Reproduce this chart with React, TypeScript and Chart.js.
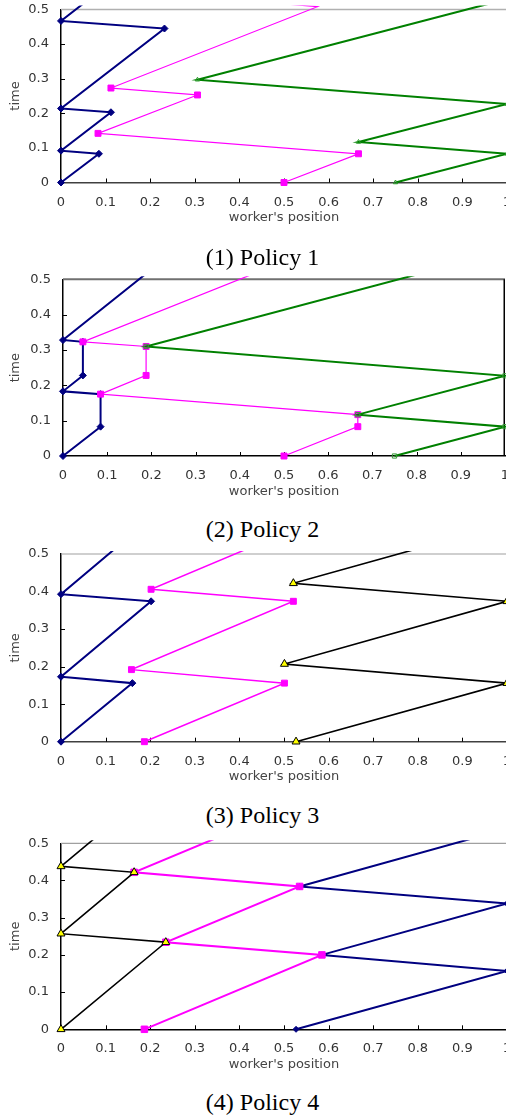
import React, { useEffect, useRef } from "react";
import { Chart, registerables } from "chart.js";

Chart.register(...registerables);

// ---------- shared axis data ----------
const xTickValues = [0, 0.1, 0.2, 0.3, 0.4, 0.5, 0.6, 0.7, 0.8, 0.9, 1];
const xTickLabels = ["0", "0.1", "0.2", "0.3", "0.4", "0.5", "0.6", "0.7", "0.8", "0.9", "1"];
const yTickValues = [0, 0.1, 0.2, 0.3, 0.4, 0.5];
const yTickLabels = ["0", "0.1", "0.2", "0.3", "0.4", "0.5"];
const xAxisTitle = "worker's position";
const yAxisTitle = "time";
const captions = ["(1) Policy 1", "(2) Policy 2", "(3) Policy 3", "(4) Policy 4"];

// ---------- Policy 1 ----------
const p1BlueX = [0, 0.085, 0, 0.112, 0, 0.232, 0, 0.06];
const p1BlueY = [0, 0.083, 0.092, 0.203, 0.214, 0.445, 0.467, 0.527];
const p1PinkX = [0.5, 0.667, 0.083, 0.306, 0.112, 0.575, 0.2];
const p1PinkY = [0, 0.083, 0.142, 0.253, 0.273, 0.508, 0.55];
const p1GreenX = [0.75, 1, 0.667, 1, 0.306, 0.94, 1];
const p1GreenY = [0, 0.083, 0.117, 0.227, 0.297, 0.51, 0.53];

// ---------- Policy 2 ----------
const p2BlueX = [0, 0.085, 0.085, 0, 0.045, 0.045, 0, 0.2];
const p2BlueY = [0, 0.083, 0.175, 0.183, 0.228, 0.323, 0.328, 0.528];
const p2PinkX = [0.5, 0.667, 0.667, 0.085, 0.188, 0.188, 0.045, 0.5];
const p2PinkY = [0, 0.083, 0.117, 0.175, 0.228, 0.31, 0.323, 0.55];
const p2GreenX = [0.75, 1, 0.667, 1, 0.188, 0.85];
const p2GreenY = [0, 0.083, 0.117, 0.227, 0.31, 0.53];

// ---------- Policy 3 ----------
const p3BlueX = [0, 0.16, 0, 0.202, 0, 0.15];
const p3BlueY = [0, 0.156, 0.173, 0.374, 0.393, 0.543];
const p3PinkX = [0.187, 0.501, 0.158, 0.521, 0.202, 0.45];
const p3PinkY = [0, 0.156, 0.192, 0.374, 0.406, 0.53];
const p3BlackX = [0.527, 1, 0.501, 1, 0.521, 0.85];
const p3BlackY = [0, 0.156, 0.207, 0.374, 0.422, 0.531];

// ---------- Policy 4 ----------
const p4BlackX = [0, 0.235, 0, 0.164, 0, 0.1];
const p4BlackY = [0, 0.234, 0.257, 0.422, 0.438, 0.538];
const p4PinkX = [0.187, 0.585, 0.235, 0.535, 0.164, 0.4];
const p4PinkY = [0, 0.2, 0.234, 0.384, 0.422, 0.54];
const p4BlueX = [0.527, 1, 0.585, 1, 0.535, 1];
const p4BlueY = [0, 0.157, 0.2, 0.338, 0.384, 0.539];

// ---------- styles ----------
type Style = {
  line: string;
  lineWidth: number;
  pointStyle: string;
  radius: number;
  fill: string;
  edge: string;
  edgeWidth: number;
};

const navyDiamond: Style = { line: "#000080", lineWidth: 2, pointStyle: "rectRot", radius: 3.5, fill: "#000080", edge: "#000080", edgeWidth: 1 };
const pinkSquareThin: Style = { line: "#ff00ff", lineWidth: 1.2, pointStyle: "rect", radius: 4.2, fill: "#ff00ff", edge: "#ff00ff", edgeWidth: 1 };
const pinkSquareMid: Style = { line: "#ff00ff", lineWidth: 1.5, pointStyle: "rect", radius: 4.2, fill: "#ff00ff", edge: "#ff00ff", edgeWidth: 1 };
const pinkSquareThick: Style = { line: "#ff00ff", lineWidth: 2, pointStyle: "rect", radius: 4.6, fill: "#ff00ff", edge: "#ff00ff", edgeWidth: 1 };
const greenTriangle: Style = { line: "#008000", lineWidth: 2, pointStyle: "triangle", radius: 2.5, fill: "rgba(255,255,255,0)", edge: "#2a9a2a", edgeWidth: 1 };
const greenSquare: Style = { line: "#008000", lineWidth: 2, pointStyle: "rect", radius: 3, fill: "rgba(255,255,255,0)", edge: "#3a9a3a", edgeWidth: 1 };
const blackYellowTri: Style = { line: "#000000", lineWidth: 1.6, pointStyle: "triangle", radius: 4.6, fill: "#ffff00", edge: "#000000", edgeWidth: 1 };
const navyPlain: Style = { line: "#000080", lineWidth: 2, pointStyle: "rectRot", radius: 3, fill: "#000080", edge: "#000080", edgeWidth: 1 };

type Series = { xs: number[]; ys: number[]; style: Style };

type Panel = {
  series: Series[]; // first = drawn on top
  canvasTop: number;
  padTop: number;
  plotH: number;
  leftW: number;
  rightPad: number;
  topLineColor: string;
  topLineWidth: number;
  rightFrame: boolean;
  xAxisColor: string;
  clipTop: number;
  captionTop: number;
};

const panels: Panel[] = [
  {
    series: [
      { xs: p1GreenX, ys: p1GreenY, style: greenTriangle },
      { xs: p1PinkX, ys: p1PinkY, style: pinkSquareThin },
      { xs: p1BlueX, ys: p1BlueY, style: navyDiamond },
    ],
    canvasTop: 0, padTop: 9.5, plotH: 173, leftW: 61, rightPad: 0,
    topLineColor: "#b0b0b0", topLineWidth: 1.5, rightFrame: false, xAxisColor: "#404040", clipTop: 4, captionTop: 245,
  },
  {
    series: [
      { xs: p2GreenX, ys: p2GreenY, style: greenSquare },
      { xs: p2PinkX, ys: p2PinkY, style: pinkSquareThin },
      { xs: p2BlueX, ys: p2BlueY, style: navyDiamond },
    ],
    canvasTop: 269, padTop: 10.3, plotH: 176.7, leftW: 63, rightPad: 2,
    topLineColor: "#707070", topLineWidth: 2, rightFrame: true, xAxisColor: "#000000", clipTop: 3, captionTop: 517,
  },
  {
    series: [
      { xs: p3BlackX, ys: p3BlackY, style: blackYellowTri },
      { xs: p3PinkX, ys: p3PinkY, style: pinkSquareMid },
      { xs: p3BlueX, ys: p3BlueY, style: navyDiamond },
    ],
    canvasTop: 544, padTop: 10, plotH: 187.7, leftW: 61, rightPad: 0,
    topLineColor: "#a0a0a0", topLineWidth: 1.2, rightFrame: false, xAxisColor: "#404040", clipTop: 3, captionTop: 803,
  },
  {
    series: [
      { xs: p4BlackX, ys: p4BlackY, style: blackYellowTri },
      { xs: p4PinkX, ys: p4PinkY, style: pinkSquareThick },
      { xs: p4BlueX, ys: p4BlueY, style: navyPlain },
    ],
    canvasTop: 833, padTop: 10.3, plotH: 186, leftW: 61, rightPad: 0,
    topLineColor: "#a0a0a0", topLineWidth: 1.2, rightFrame: false, xAxisColor: "#000000", clipTop: 3, captionTop: 1090,
  },
];

const CANVAS_W = 507;
const X_AXIS_H = 43;
const tickFont = { family: "'DejaVu Sans', sans-serif", size: 13 };

function PanelChart({ panel }: { panel: Panel }) {
  const ref = useRef<HTMLCanvasElement | null>(null);
  const canvasH = Math.ceil(panel.padTop + panel.plotH + X_AXIS_H + 1);
  const padBottom = canvasH - panel.padTop - panel.plotH - X_AXIS_H;

  useEffect(() => {
    if (!ref.current) return;
    const framePlugin = {
      id: "frameAndInnerTicks",
      beforeDatasetsDraw(chart: any) {
        const ctx = chart.ctx;
        const { left, right, top, bottom } = chart.chartArea;
        const xs = chart.scales.x;
        const ys = chart.scales.y;
        ctx.save();
        // top line at 0.5
        ctx.strokeStyle = panel.topLineColor;
        ctx.lineWidth = panel.topLineWidth;
        ctx.beginPath();
        const ty = ys.getPixelForValue(0.5);
        ctx.moveTo(left, ty);
        ctx.lineTo(right, ty);
        ctx.stroke();
        if (panel.rightFrame) {
          ctx.strokeStyle = "#000";
          ctx.lineWidth = 1.5;
          ctx.beginPath();
          ctx.moveTo(right - 0.75, top);
          ctx.lineTo(right - 0.75, bottom);
          ctx.stroke();
        }
        // inner tick marks
        ctx.strokeStyle = "#000";
        ctx.lineWidth = 1;
        ctx.beginPath();
        xTickValues.forEach((v) => {
          if (v <= 0 || v >= 1) return;
          const px = Math.round(xs.getPixelForValue(v)) + 0.5;
          ctx.moveTo(px, bottom);
          ctx.lineTo(px, bottom - 4);
        });
        yTickValues.forEach((v) => {
          if (v <= 0 || v >= 0.5) return;
          const py = Math.round(ys.getPixelForValue(v)) + 0.5;
          ctx.moveTo(left, py);
          ctx.lineTo(left + 4, py);
        });
        ctx.stroke();
        ctx.restore();
      },
    };

    const chart = new Chart(ref.current, {
      type: "scatter",
      data: {
        datasets: panel.series.map((s) => ({
          data: s.xs.map((x, i) => ({ x, y: s.ys[i] })),
          showLine: true,
          borderColor: s.style.line,
          borderWidth: s.style.lineWidth,
          backgroundColor: s.style.fill,
          pointStyle: s.style.pointStyle as any,
          pointRadius: (c: any) => (c.raw && c.raw.y > 0.5 ? 0 : s.style.radius),
          pointBackgroundColor: s.style.fill,
          pointBorderColor: s.style.edge,
          pointBorderWidth: s.style.edgeWidth,
          tension: 0,
          clip: { left: 6, top: panel.clipTop, right: 6, bottom: 6 } as any,
        })),
      },
      options: {
        animation: false,
        responsive: false,
        maintainAspectRatio: false,
        devicePixelRatio: 1,
        events: [],
        layout: {
          autoPadding: false,
          padding: { top: panel.padTop, bottom: padBottom, left: 0, right: panel.rightPad },
        },
        plugins: { legend: { display: false }, tooltip: { enabled: false }, title: { display: false } },
        scales: {
          x: {
            type: "linear",
            min: 0,
            max: 1,
            afterBuildTicks: (s: any) => {
              s.ticks = xTickValues.map((v) => ({ value: v }));
            },
            afterFit: (s: any) => {
              s.height = X_AXIS_H;
              s.paddingLeft = 0;
              s.paddingRight = 0;
            },
            grid: { display: false, drawTicks: false },
            border: { display: true, color: panel.xAxisColor, width: 1.5 },
            ticks: {
              padding: 12,
              color: "#333",
              font: tickFont,
              maxRotation: 0,
              minRotation: 0,
              autoSkip: false,
              callback: (_v: any, i: number) => xTickLabels[i],
            },
            title: { display: true, text: xAxisTitle, color: "#444", font: tickFont, padding: 0 },
          },
          y: {
            type: "linear",
            min: 0,
            max: 0.5,
            afterBuildTicks: (s: any) => {
              s.ticks = yTickValues.map((v) => ({ value: v }));
            },
            afterFit: (s: any) => {
              s.width = panel.leftW;
              s.paddingTop = 0;
              s.paddingBottom = 0;
            },
            grid: { display: false, drawTicks: false },
            border: { display: true, color: "#000", width: 1.5 },
            ticks: {
              padding: 12,
              color: "#333",
              font: tickFont,
              autoSkip: false,
              callback: (_v: any, i: number) => yTickLabels[i],
            },
            title: { display: true, text: yAxisTitle, color: "#444", font: tickFont, padding: { top: 8, bottom: 0 } },
          },
        },
      } as any,
      plugins: [framePlugin],
    });
    return () => chart.destroy();
  }, [panel]);

  return (
    <canvas
      ref={ref}
      width={CANVAS_W}
      height={canvasH}
      style={{ position: "absolute", left: 0, top: panel.canvasTop, width: CANVAS_W, height: canvasH, display: "block" }}
    />
  );
}

export default function App() {
  return (
    <div
      style={{
        position: "absolute",
        left: 0,
        top: 0,
        width: 506,
        height: 1120,
        overflow: "hidden",
        background: "#fff",
      }}
    >
      {panels.map((p, i) => (
        <PanelChart key={i} panel={p} />
      ))}
      {panels.map((p, i) => (
        <div
          key={"c" + i}
          style={{
            position: "absolute",
            left: 0,
            top: p.captionTop,
            width: 525,
            textAlign: "center",
            fontFamily: "'Liberation Serif', 'Times New Roman', serif",
            fontSize: 24,
            lineHeight: "24px",
            color: "#000",
            whiteSpace: "nowrap",
          }}
        >
          {captions[i]}
        </div>
      ))}
    </div>
  );
}
